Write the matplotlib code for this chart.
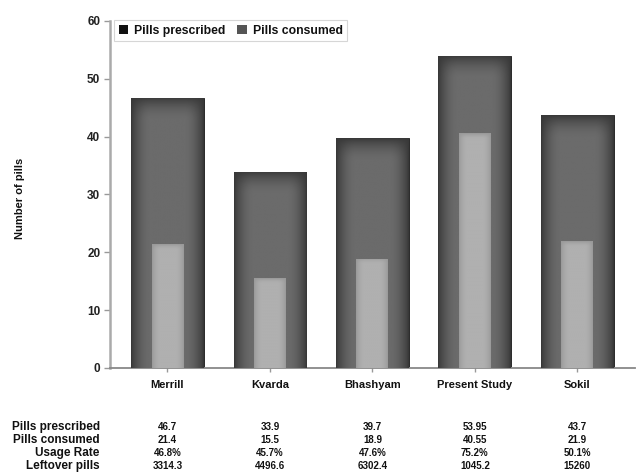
import numpy as np
import matplotlib
matplotlib.use("Agg")
import matplotlib.pyplot as plt
from matplotlib.transforms import blended_transform_factory
from matplotlib.patches import Patch

plt.rcParams['font.family'] = ['Liberation Sans', 'DejaVu Sans']

studies = ["Merrill", "Kvarda", "Bhashyam", "Present Study", "Sokil"]
prescribed = [46.7, 33.9, 39.7, 53.95, 43.7]
consumed = [21.4, 15.5, 18.9, 40.55, 21.9]
prescribed_lbl = ["46.7", "33.9", "39.7", "53.95", "43.7"]
consumed_lbl = ["21.4", "15.5", "18.9", "40.55", "21.9"]
usage_lbl = ["46.8%", "45.7%", "47.6%", "75.2%", "50.1%"]
leftover_lbl = ["3314.3", "4496.6", "6302.4", "1045.2", "15260"]
row_names = ["Pills prescribed", "Pills consumed", "Usage Rate", "Leftover pills"]
yticks = [0, 10, 20, 30, 40, 50, 60]

fig = plt.figure(figsize=(6.36, 4.76), dpi=100)
ax = fig.add_axes([0.173, 0.227, 0.825, 0.729])

x = np.arange(len(studies))
outer = ax.bar(x, prescribed, width=0.71, color="#555555", edgecolor="#2a2a2a", linewidth=0.7, zorder=2)
inner = ax.bar(x, consumed, width=0.31, color="#acacac", edgecolor="none", zorder=4)


def vignette(lo, hi, n=80, m=300, side=0.55, top_px=0.05):
    u = np.linspace(0, 1, n)
    v = np.linspace(0, 1, m)
    du = np.minimum(u, 1 - u) / 0.5          # 0 at edges, 1 at centre
    fu = np.clip(du / side, 0, 1)
    fu = np.sin(fu * np.pi / 2) ** 0.8
    dv = (1 - v)                              # 0 at top
    fv = np.clip(dv / top_px, 0, 1)
    fv = np.sin(fv * np.pi / 2) ** 0.8
    return lo + (hi - lo) * np.outer(fv, fu)


def fill_gradient(bars, lo, hi, z, top_units):
    for b in bars:
        x0, w, h = b.get_x(), b.get_width(), b.get_height()
        g = vignette(lo, hi, top_px=min(0.5, top_units / h))
        im = ax.imshow(g, extent=[x0, x0 + w, 0, h], cmap="gray", vmin=0, vmax=1,
                       aspect="auto", origin="lower", zorder=z, interpolation="bilinear")
        im.set_clip_path(b)


fill_gradient(outer, 0.22, 0.42, 3, 4.0)
fill_gradient(inner, 0.60, 0.69, 5, 1.0)

ax.set_xlim(-0.56, 4.56)
ax.set_ylim(0, 60)
ax.set_yticks(yticks)
ax.set_yticklabels([str(t) for t in yticks], fontsize=8.5, fontweight="bold", color="#222222")
ax.set_xticks(x)
ax.set_xticklabels(studies, fontsize=8, fontweight="bold", color="#111111")
ax.tick_params(axis="y", length=4, width=1, color="#999999", pad=3)
ax.tick_params(axis="x", length=3, width=1, color="#999999", pad=6)
for s in ["top", "right"]:
    ax.spines[s].set_visible(False)
ax.spines["left"].set_color("#aaaaaa")
ax.spines["left"].set_linewidth(1.8)
ax.spines["bottom"].set_color("#888888")
ax.spines["bottom"].set_linewidth(1.3)
ax.set_ylabel("Number of pills", fontsize=8, fontweight="bold", color="#111111")
ax.yaxis.set_label_coords(-0.163, 0.49)

handles = [Patch(facecolor="#111111", edgecolor="none"), Patch(facecolor="#555555", edgecolor="none")]
leg = ax.legend(handles, ["Pills prescribed", "Pills consumed"], ncol=2, loc="upper left",
                bbox_to_anchor=(0.008, 1.002), prop={"size": 8.8, "weight": "bold"},
                frameon=True, fancybox=False,
                handlelength=0.75, handleheight=0.75, handletextpad=0.5, columnspacing=1.0,
                borderpad=0.35, borderaxespad=0.0)
leg.get_frame().set_edgecolor("#cccccc")
leg.get_frame().set_linewidth(0.8)
for t in leg.get_texts():
    t.set_color("#111111")

trans = blended_transform_factory(ax.transData, fig.transFigure)
row_y = [0.103, 0.076, 0.048, 0.021]
rows = [prescribed_lbl, consumed_lbl, usage_lbl, leftover_lbl]
for yy, name, vals in zip(row_y, row_names, rows):
    fig.text(0.157, yy, name, ha="right", va="center", fontsize=8.5, fontweight="bold",
             color="#111111")
    for xi, v in zip(x, vals):
        ax.text(xi, yy, v, transform=trans, ha="center", va="center", fontsize=7,
                fontweight="bold", color="#111111", clip_on=False)

fig.savefig("out.png", dpi=100)
